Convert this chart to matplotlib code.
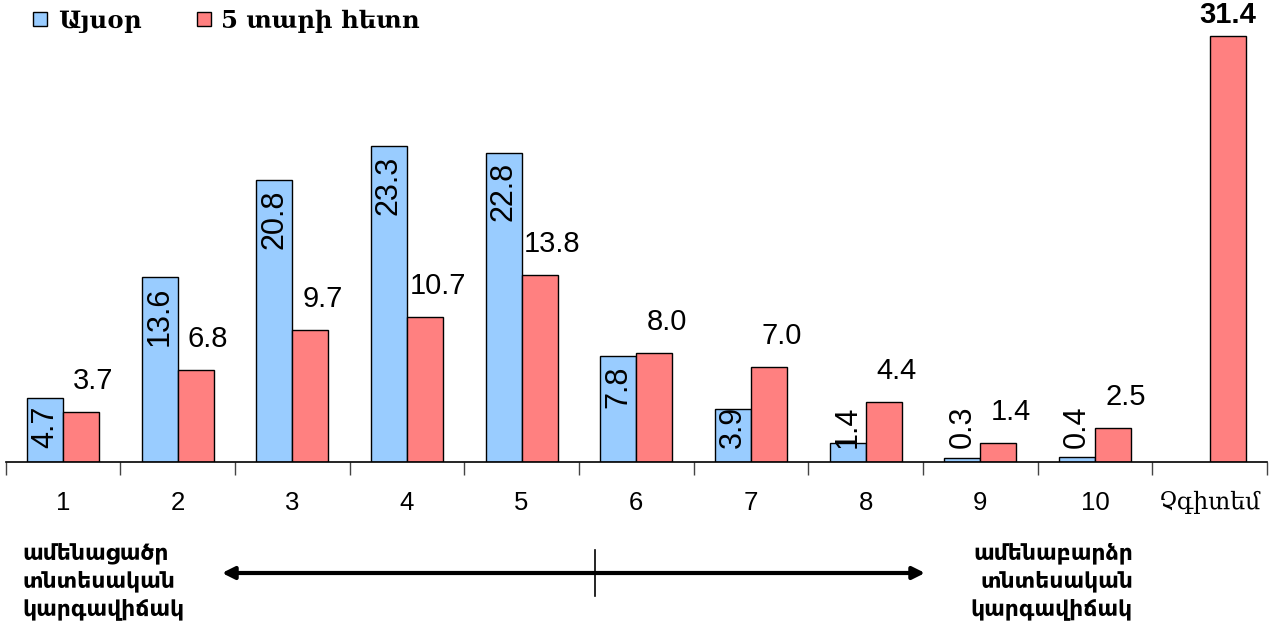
import numpy as np
import matplotlib.pyplot as plt

# Տվյալներ
categories = ["1", "2", "3", "4", "5", "6", "7", "8", "9", "10", "Չգիտեմ"]
today = [4.7, 13.6, 20.8, 23.3, 22.8, 7.8, 3.9, 1.4, 0.3, 0.4, None]
in_5_years = [3.7, 6.8, 9.7, 10.7, 13.8, 8.0, 7.0, 4.4, 1.4, 2.5, 31.4]
legend_labels = ["Այսօր", "5 տարի հետո"]
low_label = "ամենացածր\nտնտեսական\nկարգավիճակ"
high_label = "ամենաբարձր\nտնտեսական\nկարգավիճակ"

blue = "#99CCFF"
red = "#FF8080"

fig = plt.figure(figsize=(12.73, 6.32), dpi=100)
ax = fig.add_axes([5.5 / 1273, 170 / 632, 1261.5 / 1273, 462 / 632])

x = np.arange(len(categories))
w = 0.314

for i, v in enumerate(today):
    if v is None:
        continue
    ax.bar(x[i] - w / 2, v, w, color=blue, edgecolor="black", linewidth=1)
    if v > 6:
        ax.text(x[i] - w / 2, v - 0.7, f"{v:.1f}", rotation=90, ha="center", va="top",
                fontsize=22, family="Liberation Sans")
    else:
        ax.text(x[i] - w / 2, 1.0, f"{v:.1f}", rotation=90, ha="center", va="bottom",
                fontsize=22, family="Liberation Sans")

for i, v in enumerate(in_5_years):
    ax.bar(x[i] + w / 2, v, w, color=red, edgecolor="black", linewidth=1)
    if today[i] is None:
        ax.text(x[i] + w / 2, v + 1.55, f"{v:.1f}", ha="center", va="center",
                fontsize=21, fontweight="bold", family="Liberation Sans")
    else:
        ax.text(x[i] + w / 2 + 0.11, v + 2.3, f"{v:.1f}", ha="center", va="center",
                fontsize=21, family="Liberation Sans")

ax.set_xlim(-0.5, len(categories) - 0.5)
ax.set_ylim(0, 34.05)
ax.set_yticks([])
for s in ["top", "left", "right"]:
    ax.spines[s].set_visible(False)
ax.spines["bottom"].set_linewidth(1.2)

ax.set_xticks(x)
ax.set_xticklabels(categories, fontsize=18.5, family="Liberation Sans")
ax.get_xticklabels()[-1].set_family("DejaVu Serif")
ax.get_xticklabels()[-1].set_fontsize(17)
ax.tick_params(axis="x", which="major", length=0, pad=21)
ax.set_xticks(np.arange(len(categories) + 1) - 0.5, minor=True)
ax.tick_params(axis="x", which="minor", length=9, width=1, color="#444444")

# Լեգենդ
fig.patches.append(plt.Rectangle((33 / 1273, 1 - 26 / 632), 14 / 1273, 14 / 632,
                                 transform=fig.transFigure, facecolor=blue,
                                 edgecolor="black", linewidth=1))
fig.text(58 / 1273, 1 - 21 / 632, legend_labels[0], fontsize=17.5, fontweight="bold",
         family="DejaVu Serif", va="center")
fig.patches.append(plt.Rectangle((197 / 1273, 1 - 26 / 632), 14 / 1273, 14 / 632,
                                 transform=fig.transFigure, facecolor=red,
                                 edgecolor="black", linewidth=1))
fig.text(221 / 1273, 1 - 21 / 632, legend_labels[1], fontsize=17.5, fontweight="bold",
         family="DejaVu Serif", va="center")

# Ստորին պիտակներ և սլաք
fig.text(22 / 1273, 1 - 581 / 632, low_label, fontsize=15.8, fontweight="bold",
         family="DejaVu Sans", va="center", ha="left", linespacing=1.38)
fig.text(1133 / 1273, 1 - 581 / 632, high_label, fontsize=15.8, fontweight="bold",
         family="DejaVu Sans", va="center", ha="right", multialignment="right",
         linespacing=1.38)
fig.add_artist(plt.Line2D([595 / 1273, 595 / 1273], [1 - 550 / 632, 1 - 596 / 632],
                          transform=fig.transFigure, color="black", linewidth=1.2))
ax.annotate("", xy=(925 / 1273, 1 - 573 / 632), xytext=(222 / 1273, 1 - 573 / 632),
            xycoords="figure fraction", textcoords="figure fraction",
            arrowprops=dict(arrowstyle="<|-|>", color="black", lw=3,
                            mutation_scale=18, shrinkA=0, shrinkB=0))

fig.savefig("out.png", dpi=100)
